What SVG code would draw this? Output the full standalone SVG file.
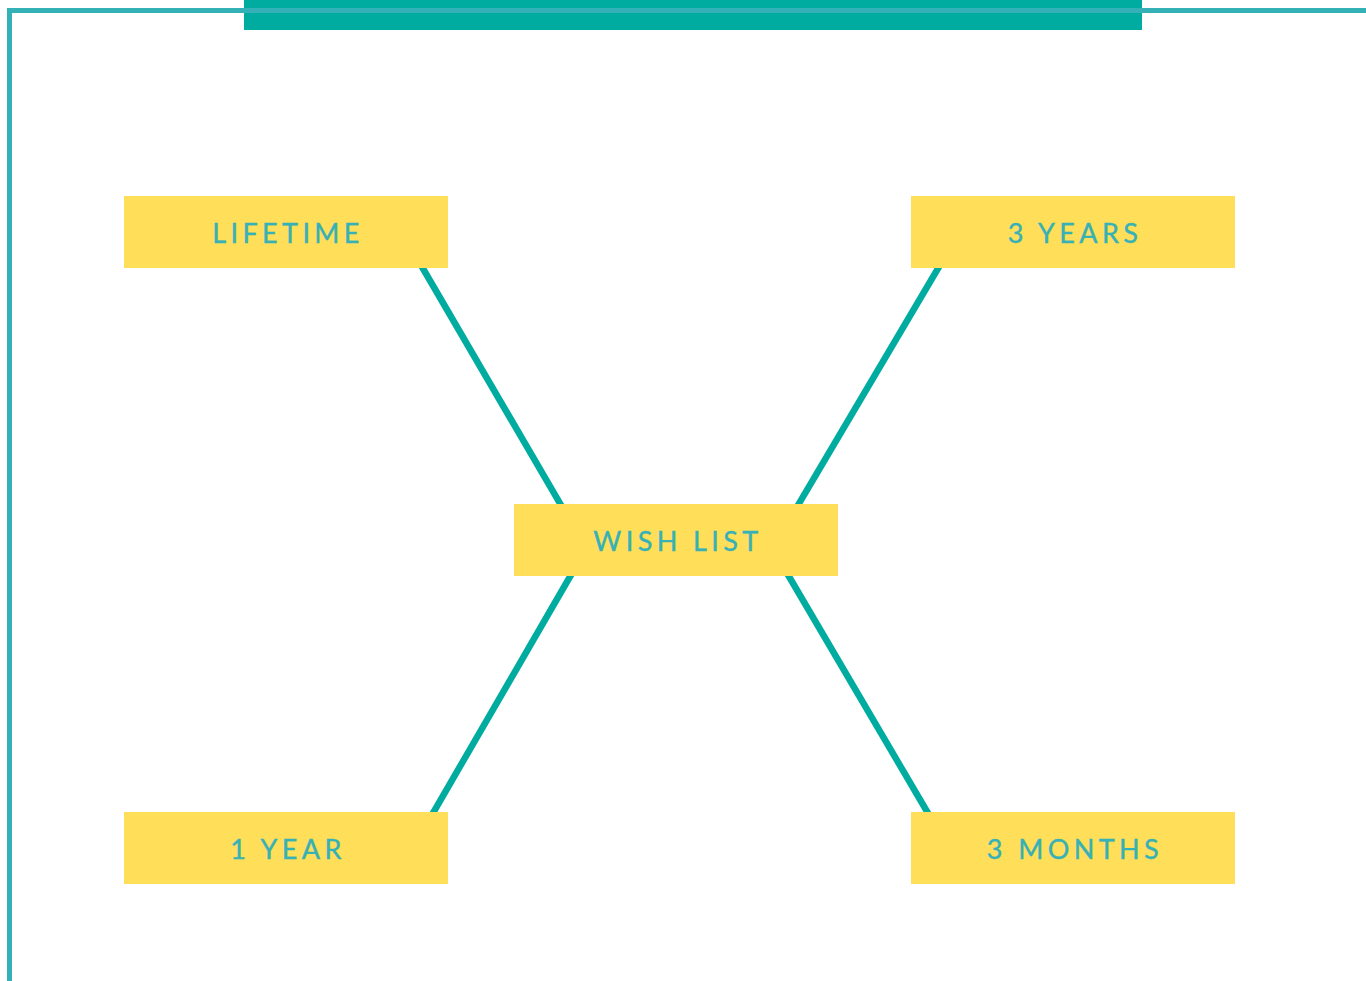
<svg xmlns="http://www.w3.org/2000/svg" width="1366" height="981" viewBox="0 0 1366 981">
  <style>
    .box { fill: #ffde59; }
    .label { font-family: Lato, "Open Sans", sans-serif; font-size: 27px; letter-spacing: 4.4px; fill: #36b1b6; text-anchor: middle; stroke: #36b1b6; stroke-width: 0.4px; }
    .link { stroke: #00ab9f; stroke-width: 6.5; fill: none; }
  </style>
  <rect x="0" y="0" width="1366" height="981" fill="#ffffff"/>

  <!-- header band and frame -->
  <g id="frame">
    <rect x="244" y="0" width="898" height="30" fill="#00ab9f"/>
    <path d="M9.5 981 V10.5 H1366" fill="none" stroke="#34b1b6" stroke-width="5"/>
  </g>

  <!-- connectors -->
  <g id="connectors">
    <line class="link" x1="418" y1="260" x2="565" y2="512"/>
    <line class="link" x1="943" y1="260" x2="794" y2="512"/>
    <line class="link" x1="575" y1="568" x2="429" y2="820"/>
    <line class="link" x1="784" y1="568" x2="932" y2="820"/>
  </g>

  <g id="node-lifetime">
    <rect class="box" x="124" y="196" width="324" height="72"/>
    <text class="label" x="288" y="242.5">LIFETIME</text>
  </g>
  <g id="node-3-years">
    <rect class="box" x="911" y="196" width="324" height="72"/>
    <text class="label" x="1075" y="242.5">3 YEARS</text>
  </g>
  <g id="node-wish-list">
    <rect class="box" x="514" y="504" width="324" height="72"/>
    <text class="label" x="678" y="550.5">WISH LIST</text>
  </g>
  <g id="node-1-year">
    <rect class="box" x="124" y="812" width="324" height="72"/>
    <text class="label" x="288" y="858.5">1 YEAR</text>
  </g>
  <g id="node-3-months">
    <rect class="box" x="911" y="812" width="324" height="72"/>
    <text class="label" x="1075" y="858.5">3 MONTHS</text>
  </g>
</svg>
